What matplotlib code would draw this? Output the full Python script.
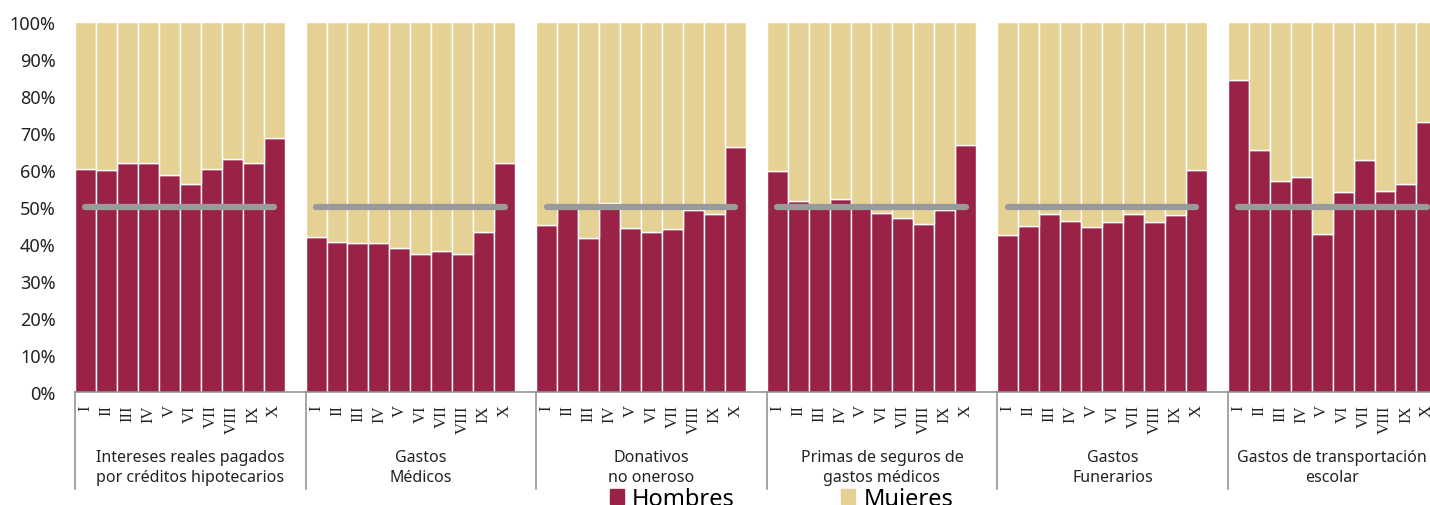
import matplotlib.pyplot as plt
from matplotlib.patches import Patch
from matplotlib.transforms import blended_transform_factory

plt.rcParams['font.family'] = ['Noto Sans', 'DejaVu Sans']

# datos (porcentaje por decil)
grupos = ['Intereses reales pagados\npor créditos hipotecarios',
          'Gastos\nMédicos',
          'Donativos\nno oneroso',
          'Primas de seguros de\ngastos médicos',
          'Gastos\nFunerarios',
          'Gastos de transportación\nescolar']
deciles = ['I', 'II', 'III', 'IV', 'V', 'VI', 'VII', 'VIII', 'IX', 'X']

hombres_intereses = [60.2, 59.9, 61.9, 61.8, 58.6, 56.1, 60.2, 62.8, 61.9, 68.5]
hombres_medicos = [41.8, 40.5, 40.3, 40.1, 38.8, 37.3, 37.9, 37.2, 43.1, 61.7]
hombres_donativos = [45.0, 49.8, 41.5, 51.0, 44.3, 43.2, 43.9, 49.2, 48.0, 66.2]
hombres_primas = [59.6, 51.6, 50.3, 52.2, 49.6, 48.4, 47.0, 45.3, 49.0, 66.7]
hombres_funerarios = [42.4, 44.9, 47.9, 46.1, 44.5, 45.9, 48.1, 45.9, 47.7, 60.0]
hombres_transporte = [84.2, 65.4, 56.9, 58.0, 42.7, 54.0, 62.5, 54.2, 56.1, 72.8]

mujeres_intereses = [39.8, 40.1, 38.1, 38.2, 41.4, 43.9, 39.8, 37.2, 38.1, 31.5]
mujeres_medicos = [58.2, 59.5, 59.7, 59.9, 61.2, 62.7, 62.1, 62.8, 56.9, 38.3]
mujeres_donativos = [55.0, 50.2, 58.5, 49.0, 55.7, 56.8, 56.1, 50.8, 52.0, 33.8]
mujeres_primas = [40.4, 48.4, 49.7, 47.8, 50.4, 51.6, 53.0, 54.7, 51.0, 33.3]
mujeres_funerarios = [57.6, 55.1, 52.1, 53.9, 55.5, 54.1, 51.9, 54.1, 52.3, 40.0]
mujeres_transporte = [15.8, 34.6, 43.1, 42.0, 57.3, 46.0, 37.5, 45.8, 43.9, 27.2]

hombres = [hombres_intereses, hombres_medicos, hombres_donativos,
           hombres_primas, hombres_funerarios, hombres_transporte]
mujeres = [mujeres_intereses, mujeres_medicos, mujeres_donativos,
           mujeres_primas, mujeres_funerarios, mujeres_transporte]

rojo = '#9B2247'
amarillo = '#E6D194'
gris = '#9A9A9A'

fig = plt.figure(figsize=(14.3, 5.06), dpi=100)
slot = 20.96
ax = fig.add_axes([75/1430, (506-392.7)/506, 66*slot/1430, 370/506])

pos = []
for g in range(len(grupos)):
    x = [g*11 + i for i in range(len(deciles))]
    pos += x
    ax.bar(x, hombres[g], width=1, color=rojo, edgecolor='white', linewidth=1)
    ax.bar(x, mujeres[g], bottom=hombres[g], width=1, color=amarillo,
           edgecolor='white', linewidth=1)
    ax.plot([x[0], x[-1]], [50, 50], color=gris, lw=4.5, solid_capstyle='round', zorder=3)

ax.set_xlim(-0.5, 65.5)
ax.set_ylim(0, 100)
ax.set_yticks(range(0, 101, 10))
ax.set_yticklabels([f'{v}%' for v in range(0, 101, 10)], fontsize=13, color='#222222')
ax.set_xticks(pos)
ax.set_xticklabels(deciles * len(grupos), rotation=90, fontsize=12,
                   family=['Liberation Serif', 'DejaVu Serif'], color='#222222')
ax.tick_params(axis='y', length=0, pad=14)
ax.tick_params(axis='x', length=0, pad=9)

for s in ['top', 'right', 'left']:
    ax.spines[s].set_visible(False)
ax.spines['bottom'].set_color('#8C8C8C')
ax.spines['bottom'].set_linewidth(1.1)

trans = blended_transform_factory(ax.transData, ax.transAxes)
for g in range(len(grupos) + 1):
    ax.plot([g*11 - 0.5]*2, [0, -0.262], transform=trans, clip_on=False,
            color='#8C8C8C', lw=1.1)
for g, nombre in enumerate(grupos):
    xc = g*11 + 5
    if g == len(grupos) - 1:
        xc = g*11 + 4.45  # que quepa dentro de la figura
    ax.text(xc, -0.203, nombre, transform=trans, ha='center', va='center',
            fontsize=11.5, color='#222222', linespacing=1.38)

handles = [Patch(color=rojo), Patch(color=amarillo)]
fig.legend(handles, ['Hombres', 'Mujeres'], loc='center', bbox_to_anchor=(0.5465, 0.012),
           ncol=2, frameon=False, fontsize=17, handlelength=0.6, handleheight=0.6,
           handletextpad=0.35, columnspacing=4.5, borderpad=0)

fig.savefig('out.png', dpi=100)
